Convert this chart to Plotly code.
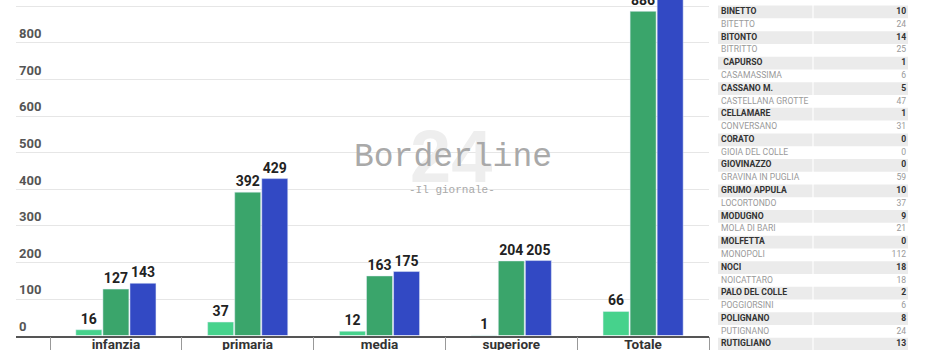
import plotly.graph_objects as go

# ---- bar chart data ----
categories = ["infanzia", "primaria", "media", "superiore", "Totale"]
serie_1 = [16, 37, 12, 1, 66]
serie_2 = [127, 392, 163, 204, 886]
serie_3 = [143, 429, 175, 205, 952]
series_names = ["Serie 1", "Serie 2", "Serie 3"]
series_colors = ["#46d28c", "#3aa56b", "#3249c4"]
y_ticks = [0, 100, 200, 300, 400, 500, 600, 700, 800, 900]

# ---- table data ----
comuni = ["BARI", "BINETTO", "BITETTO", "BITONTO", "BITRITTO", " CAPURSO", "CASAMASSIMA",
          "CASSANO M.", "CASTELLANA GROTTE", "CELLAMARE", "CONVERSANO", "CORATO",
          "GIOIA DEL COLLE", "GIOVINAZZO", "GRAVINA IN PUGLIA", "GRUMO APPULA",
          "LOCORTONDO", "MODUGNO", "MOLA DI BARI", "MOLFETTA", "MONOPOLI", "NOCI",
          "NOICATTARO", "PALO DEL COLLE", "POGGIORSINI", "POLIGNANO", "PUTIGNANO",
          "RUTIGLIANO"]
casi = [217, 10, 24, 14, 25, 1, 6, 5, 47, 1, 31, 0, 0, 0, 59, 10, 37, 9, 21, 0, 112,
        18, 18, 2, 6, 8, 24, 13]

W, H = 930, 350
FONT = "Roboto"

fig = go.Figure()

for name, vals, col in zip(series_names, [serie_1, serie_2, serie_3], series_colors):
    fig.add_trace(go.Bar(
        x=categories, y=vals, name=name, marker_color=col,
        text=vals, textposition="outside", constraintext="none", cliponaxis=True,
        textfont=dict(family=FONT, size=14, color="#222", weight="bold"),
        xaxis="x", yaxis="y", showlegend=False, hoverinfo="x+y",
    ))

# ---- table on secondary axes ----
idx = list(range(len(comuni)))
gray_idx = [i for i in idx if i % 2 == 1]
white_idx = [i for i in idx if i % 2 == 0]

fig.add_trace(go.Bar(
    y=gray_idx, x=[0.497] * len(gray_idx), base=0, orientation="h",
    width=1, offset=-0.5, marker=dict(color="#ebebeb", line=dict(width=0)),
    xaxis="x2", yaxis="y2", showlegend=False, hoverinfo="skip",
))
fig.add_trace(go.Bar(
    y=gray_idx, x=[0.497] * len(gray_idx), base=0.503, orientation="h",
    width=1, offset=-0.5, marker=dict(color="#ebebeb", line=dict(width=0)),
    xaxis="x2", yaxis="y2", showlegend=False, hoverinfo="skip",
))

for rows, color, weight in [(gray_idx, "#333333", "bold"), (white_idx, "#9a9a9a", "normal")]:
    fig.add_trace(go.Scatter(
        x=[0.016] * len(rows), y=rows, text=[comuni[i] for i in rows],
        mode="text", textposition="middle right", cliponaxis=False,
        textfont=dict(family=FONT, size=8.6, color=color, weight=weight),
        xaxis="x2", yaxis="y2", showlegend=False, hoverinfo="skip",
    ))
    fig.add_trace(go.Scatter(
        x=[0.99] * len(rows), y=rows, text=[str(casi[i]) for i in rows],
        mode="text", textposition="middle left", cliponaxis=False,
        textfont=dict(family=FONT, size=8.6, color=color, weight=weight),
        xaxis="x2", yaxis="y2", showlegend=False, hoverinfo="skip",
    ))

row_h = 12.78
row0_center = -0.8
top_row = -row0_center / row_h
bottom_row = (H - row0_center) / row_h

fig.update_layout(
    width=W, height=H, autosize=False,
    margin=dict(l=0, r=0, t=0, b=0, pad=0),
    paper_bgcolor="white", plot_bgcolor="white",
    barmode="group", bargap=0.384, bargroupgap=0.04,
    font=dict(family=FONT),
    xaxis=dict(
        type="category", domain=[16 / W, 709 / W], range=[-0.758, 4.5],
        showline=True, linecolor="#555", linewidth=1.5,
        ticks="outside", tickson="boundaries", ticklen=15, tickcolor="#999", tickwidth=1,
        tickfont=dict(family=FONT, size=13.5, color="#333", weight="bold"),
        ticklabelstandoff=-5, showgrid=False, fixedrange=True, automargin=False,
    ),
    yaxis=dict(
        domain=[14.4 / H, 1], range=[0, 917], tickvals=y_ticks,
        showgrid=True, gridcolor="#e6e6e6", gridwidth=1, zeroline=False,
        ticks="", ticklabelposition="inside top",
        tickfont=dict(family=FONT, size=13, color="#555", weight="bold"),
        fixedrange=True, automargin=False,
    ),
    xaxis2=dict(domain=[718 / W, 908 / W], range=[0, 1], visible=False,
                fixedrange=True, anchor="y2"),
    yaxis2=dict(domain=[0, 1], range=[bottom_row, top_row], visible=False,
                fixedrange=True, anchor="x2"),
    annotations=[
        dict(text="24", x=451 / W, y=1 - 156 / H, xref="paper", yref="paper",
             showarrow=False, font=dict(family="Liberation Sans", size=74,
                                        color="#eeeeee", weight="bold")),
        dict(text="Borderline", x=453 / W, y=1 - 157 / H, xref="paper", yref="paper",
             showarrow=False, font=dict(family="Liberation Mono", size=33, color="#a9a9a9")),
        dict(text="-Il giornale-", x=452 / W, y=1 - 190 / H, xref="paper", yref="paper",
             showarrow=False, font=dict(family="Liberation Mono", size=11, color="#a9a9a9")),
    ],
)

fig.write_html("out.html", config={"displayModeBar": False})
